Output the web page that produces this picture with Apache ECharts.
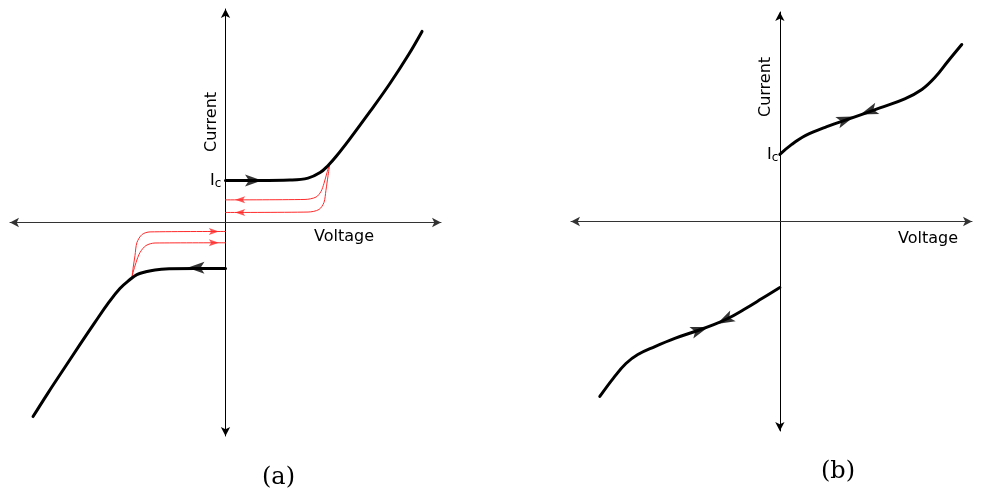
<!DOCTYPE html>
<html>
<head>
<meta charset="utf-8">
<script src="https://cdn.jsdelivr.net/npm/echarts@6/dist/echarts.min.js"></script>
<style>html,body{margin:0;padding:0;background:#fff}#c{width:988px;height:502px}</style>
</head>
<body>
<div id="c"></div>
<script>
// Panel (a): hysteretic I-V curve (arbitrary units)
const aBlackPos = [[0,1.97],[1.6,1.97],[2.99,1.99],[3.83,2.08],[4.39,2.34],[4.76,2.67],[5.13,3.09],[5.78,3.93],[6.71,5.2],[7.63,6.51],[8.47,7.82],[9.12,8.95]];
const aBlackNeg = [[0,-2.15],[-1.42,-2.15],[-2.58,-2.17],[-3.27,-2.22],[-3.74,-2.32],[-4.11,-2.44],[-4.43,-2.67],[-4.9,-3.09],[-5.45,-3.79],[-6.06,-4.68],[-6.75,-5.71],[-7.49,-6.84],[-8.24,-7.99],[-8.93,-9.09]];
const aRedPos1 = [[4.85,2.81],[4.71,2.34],[4.57,1.83],[4.43,1.45],[4.2,1.19],[3.69,1.08],[0,1.06]];
const aRedPos2 = [[4.85,2.81],[4.76,2.2],[4.66,1.5],[4.57,0.94],[4.34,0.61],[3.83,0.49],[0,0.47]];
const aRedNeg1 = [[0,-0.42],[-3.5,-0.44],[-3.87,-0.56],[-4.11,-0.94],[-4.2,-1.55],[-4.29,-2.15],[-4.34,-2.58]];
const aRedNeg2 = [[0,-0.95],[-3.27,-0.96],[-3.69,-1.08],[-3.97,-1.41],[-4.15,-1.87],[-4.29,-2.34],[-4.34,-2.58]];
const aBlackArrows = [[1.3,1.97,-90],[-1.37,-2.12,90]];
const aRedArrows = [[0.68,1.06,90],[0.68,0.47,90],[-0.54,-0.42,-90],[-0.54,-0.95,-90]];
// Panel (b)
const bPos = [[0,3.2],[0.57,3.68],[1.24,4.11],[2.25,4.53],[3.49,4.96],[4.79,5.42],[5.98,5.85],[6.8,6.3],[7.42,6.87],[8.04,7.64],[8.71,8.45]];
const bNeg = [[0,-3.15],[-0.86,-3.68],[-1.72,-4.2],[-2.49,-4.63],[-3.26,-4.96],[-4.07,-5.25],[-5.03,-5.58],[-5.98,-5.97],[-6.8,-6.35],[-7.37,-6.78],[-7.95,-7.45],[-8.62,-8.35]];
const bArrows = [[3.16,4.87,-70],[4.26,5.25,110],[-3.83,-5.17,-71],[-2.63,-4.7,117]];

const ARROW = 'path://M5,0 L10,14 L5,10.8 L0,14 Z';
const chart = echarts.init(document.getElementById('c'), null, {renderer:'canvas'});
function axis(gi, min, max, color){
  return {type:'value', gridIndex:gi, min:min, max:max,
    axisLine:{show:true, onZero:true, symbol:['arrow','arrow'], symbolSize:[7,9], lineStyle:{color:color, width:1}},
    axisTick:{show:false}, axisLabel:{show:false}, splitLine:{show:false}};
}
function line(gi, data, color, w, smooth){
  return {type:'line', xAxisIndex:gi, yAxisIndex:gi, data:data, smooth:smooth, symbol:'none',
    lineStyle:{color:color, width:w, cap:'round', join:'round'}, silent:true, z:3};
}
function arrows(gi, list, color, size){
  return {type:'scatter', xAxisIndex:gi, yAxisIndex:gi, symbol:ARROW, symbolSize:size,
    data:list.map(p=>({value:[p[0],p[1]], symbolRotate:p[2]})), itemStyle:{color:color}, silent:true, z:5};
}
const sans = 'DejaVu Sans';
const F = '16px "'+sans+'"';
chart.setOption({
  animation:false,
  grid:[{left:10, top:9, width:431, height:427},{left:571, top:12, width:401, height:419}],
  xAxis:[axis(0,-10,10,'#333'), axis(1,-10,9.2,'#333')],
  yAxis:[axis(0,-10,10,'#000'), axis(1,-10,10,'#000')],
  series:[
    line(0,aRedPos1,'#ff2a2a',1,0.3), line(0,aRedPos2,'#ff2a2a',1,0.3),
    line(0,aRedNeg1,'#ff2a2a',1,0.3), line(0,aRedNeg2,'#ff2a2a',1,0.3),
    line(0,aBlackPos,'#000',3,0.4), line(0,aBlackNeg,'#000',3,0.4),
    arrows(0,aBlackArrows,'#000',[12,17]), arrows(0,aRedArrows,'#ff2a2a',[7,10]),
    line(1,bPos,'#000',3,0.4), line(1,bNeg,'#000',3,0.4),
    arrows(1,bArrows,'#000',[12,18])
  ],
  graphic:[
    {type:'text', x:204, y:152, rotation:Math.PI/2, style:{text:'Current', font:F, fill:'#000'}},
    {type:'text', x:758, y:117, rotation:Math.PI/2, style:{text:'Current', font:F, fill:'#000'}},
    {type:'text', x:314, y:229, style:{text:'Voltage', font:F, fill:'#000'}},
    {type:'text', x:898, y:231, style:{text:'Voltage', font:F, fill:'#000'}},
    {type:'text', x:210, y:171, style:{text:'{a|I}{b|c}', rich:{a:{font:F, fill:'#000'}, b:{font:'12px "'+sans+'"', fill:'#000', verticalAlign:'bottom', padding:[7,0,0,0]}}}},
    {type:'text', x:767, y:145, style:{text:'{a|I}{b|c}', rich:{a:{font:F, fill:'#000'}, b:{font:'12px "'+sans+'"', fill:'#000', verticalAlign:'bottom', padding:[7,0,0,0]}}}},
    {type:'text', x:262, y:466, style:{text:'(a)', font:'24px "DejaVu Serif"', fill:'#000'}},
    {type:'text', x:821, y:460, style:{text:'(b)', font:'24px "DejaVu Serif"', fill:'#000'}}
  ]
});
</script>
</body>
</html>
